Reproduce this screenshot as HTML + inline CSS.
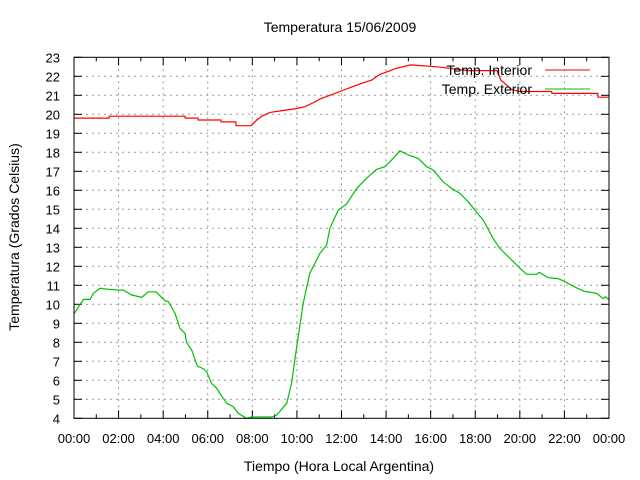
<!DOCTYPE html>
<html><head><meta charset="utf-8"><style>
body{margin:0;background:#fff}
svg{display:block;font-family:"Liberation Sans",sans-serif}
</style></head><body>
<svg id="c" width="640" height="480">
<text x="340" y="32" font-size="14" text-anchor="middle">Temperatura 15/06/2009</text>
<text x="339" y="471" font-size="14" text-anchor="middle">Tiempo (Hora Local Argentina)</text>
<text transform="translate(19,237) rotate(-90)" font-size="14" text-anchor="middle">Temperatura (Grados Celsius)</text>
<g id="grid"></g><g id="ticks"></g><g id="series"></g>
<rect x="74" y="57.3" width="535" height="361" fill="none" stroke="#000" stroke-width="1"/>
<g>
<text x="532" y="75" font-size="14" text-anchor="end">Temp. Interior</text>
<line x1="545" y1="70" x2="590" y2="70" stroke="#f00" stroke-width="1"/>
<text x="532" y="94" font-size="14" text-anchor="end">Temp. Exterior</text>
<line x1="545" y1="89" x2="590" y2="89" stroke="#00c000" stroke-width="1"/>
</g>
</svg>
<script>
const xTickLabels=["00:00","02:00","04:00","06:00","08:00","10:00","12:00","14:00","16:00","18:00","20:00","22:00","00:00"];
const yTicks=[4,5,6,7,8,9,10,11,12,13,14,15,16,17,18,19,20,21,22,23];
const interiorHours=[0,1.57,1.58,4.98,4.99,5.56,5.57,6.59,6.6,7.26,7.27,7.94,8.2,8.43,8.79,9.37,9.96,10.36,10.72,11.03,11.48,11.93,12.38,12.83,13.36,13.72,14.2,14.39,15.1,16.3,17.67,18.97,19.15,19.64,20,21.43,21.44,23.5,23.51,24];
const interiorValues=[19.8,19.8,19.9,19.9,19.8,19.8,19.7,19.7,19.6,19.6,19.4,19.4,19.7,19.9,20.1,20.2,20.3,20.4,20.6,20.8,21.0,21.2,21.4,21.6,21.8,22.1,22.3,22.4,22.6,22.5,22.3,22.3,21.8,21.3,21.2,21.2,21.1,21.1,20.9,20.9];
const exteriorHours=[0,0.2,0.42,0.72,0.87,1.17,1.54,1.99,2.21,2.59,3.04,3.33,3.68,4.08,4.23,4.53,4.75,4.98,5.05,5.28,5.53,5.8,5.95,6.17,6.4,6.62,6.85,7.14,7.37,7.74,7.97,8.86,9.09,9.54,9.76,9.99,10.28,10.58,11.03,11.33,11.48,11.85,12.23,12.68,13.12,13.57,13.94,14.25,14.62,15.0,15.44,15.82,16.11,16.56,16.94,17.31,17.68,18.13,18.35,18.8,19.1,19.78,20.3,20.75,20.87,21.27,21.72,22.02,22.54,22.91,23.44,23.74,23.84,24];
const exteriorValues=[9.5,9.87,10.26,10.26,10.58,10.84,10.79,10.75,10.75,10.49,10.37,10.66,10.66,10.19,10.14,9.53,8.74,8.47,7.98,7.59,6.75,6.61,6.45,5.84,5.58,5.17,4.79,4.61,4.26,4.0,4.07,4.07,4.17,4.79,5.84,7.77,10.05,11.63,12.68,13.12,14.0,14.96,15.28,16.1,16.63,17.1,17.24,17.6,18.08,17.86,17.68,17.24,17.07,16.45,16.1,15.84,15.4,14.75,14.44,13.47,12.95,12.16,11.58,11.58,11.68,11.4,11.35,11.19,10.87,10.68,10.58,10.3,10.4,10.25];
const X0=74,X1=609,Y0=418.3,Y1=57.3,VMIN=4,VMAX=23;
const xs=h=>X0+(X1-X0)*h/24;
const ys=v=>Y0-(Y0-Y1)*(v-VMIN)/(VMAX-VMIN);
const NS="http://www.w3.org/2000/svg";
const grid=document.getElementById('grid'),ticks=document.getElementById('ticks'),series=document.getElementById('series'),svg=document.getElementById('c');
function ln(p,x1,y1,x2,y2,st,dash){const l=document.createElementNS(NS,'line');l.setAttribute('x1',x1);l.setAttribute('y1',y1);l.setAttribute('x2',x2);l.setAttribute('y2',y2);l.setAttribute('stroke',st);if(dash)l.setAttribute('stroke-dasharray',dash);p.appendChild(l);return l;}
yTicks.forEach(v=>{const y=ys(v);
 if(v>VMIN&&v<VMAX){const g=ln(grid,X0,y,X1,y,'#999','2,4');
 
 }
 ln(ticks,X0,y,X0+8,y,'#000');ln(ticks,X1,y,X1-8,y,'#000');
 const t=document.createElementNS(NS,'text');t.setAttribute('x',60);t.setAttribute('y',y+5);t.setAttribute('font-size','13');t.setAttribute('text-anchor','end');t.textContent=v;
 
 
 svg.appendChild(t);});
xTickLabels.forEach((s,i)=>{const x=xs(i*2);
 if(i>0&&i<xTickLabels.length-1){const g=ln(grid,x,Y1,x,Y0,'#999','2,4');
 
 }
 ln(ticks,x,Y0,x,Y0-8,'#000');ln(ticks,x,Y1,x,Y1+8,'#000');
 if(i<xTickLabels.length-1){const m=xs(i*2+1);ln(ticks,m,Y0,m,Y0-4,'#000');ln(ticks,m,Y1,m,Y1+4,'#000');}
 const t=document.createElementNS(NS,'text');t.setAttribute('x',x);t.setAttribute('y',443);t.setAttribute('font-size','13');t.setAttribute('text-anchor','middle');t.textContent=s;
 
 
 svg.appendChild(t);});
function poly(hs,vs,col){const p=document.createElementNS(NS,'polyline');
 p.setAttribute('points',hs.map((h,i)=>xs(h).toFixed(1)+','+ys(vs[i]).toFixed(1)).join(' '));
 p.setAttribute('fill','none');p.setAttribute('stroke',col);p.setAttribute('stroke-width','1.2');series.appendChild(p);return p;}
const pi=poly(interiorHours,interiorValues,'#f00');


const pe=poly(exteriorHours,exteriorValues,'#00c000');


</script>
</body></html>
